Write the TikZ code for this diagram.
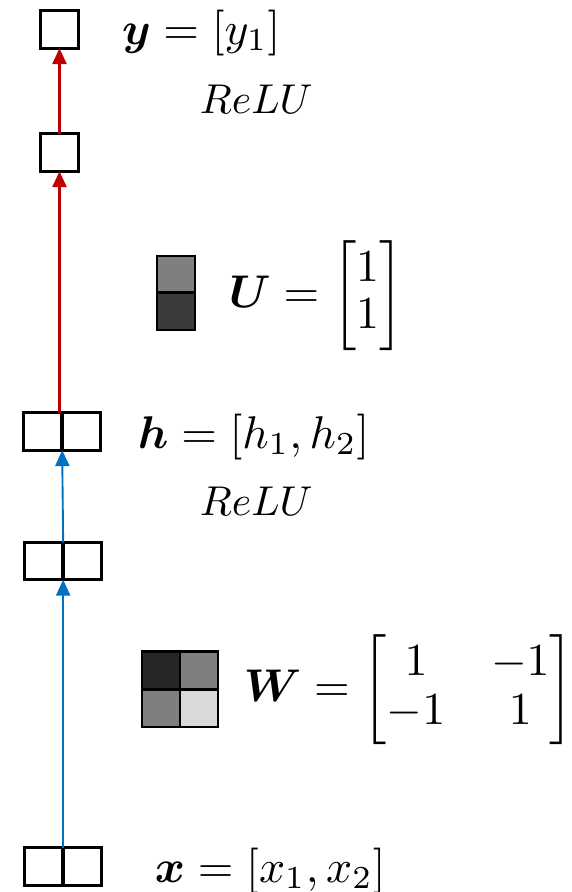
\documentclass[tikz,border=0pt]{standalone}
\usepackage{amsmath,bm}
\usetikzlibrary{arrows.meta}
\definecolor{fwdred}{HTML}{C00000}
\definecolor{fwdblue}{HTML}{0070C0}
\definecolor{wdark}{HTML}{262626}
\definecolor{wmid}{HTML}{7F7F7F}
\definecolor{wlight}{HTML}{D9D9D9}
\definecolor{udark}{HTML}{3A3A3A}

\begin{document}
\begin{tikzpicture}[x=0.24pt,y=-0.24pt,
  unit/.style={draw=black, line width=0.72pt, inner sep=0pt, outer sep=0pt,
    minimum width=9.2pt, minimum height=9pt},
  weight/.style={draw=black, line width=0.5pt, inner sep=0pt, outer sep=0pt,
    minimum width=9.1pt, minimum height=8.9pt},
  lbl/.style={inner sep=0pt, outer sep=0pt},
  eqn/.style={lbl, scale=1.1},
  redlink/.style={draw=fwdred, line width=0.5pt, -{Triangle[length=3.8pt,width=3.4pt]}},
  bluelink/.style={draw=fwdblue, line width=0.45pt, -{Triangle[length=3.8pt,width=3.4pt]}}]

\useasboundingbox (0,0) rectangle (572,892);

% output units
\node[unit] (yout) at (59.5,29.5) {};
\node[unit] (ypre) at (59.5,152.5) {};

% hidden units (after and before ReLU)
\node[unit] (hA) at (43,431.5) {};
\node[unit] (hB) at (81,431.5) {};
\node[unit] (gA) at (44,561) {};
\node[unit] (gB) at (82,561) {};

% input units
\node[unit] (xA) at (44,866.5) {};
\node[unit] (xB) at (82,866.5) {};

% weight matrix U
\node[weight, fill=wmid] (u1) at (176,274.5) {};
\node[weight, fill=udark] (u2) at (176,311) {};

% weight matrix W
\node[weight, fill=wdark] (w11) at (161,670) {};
\node[weight, fill=wmid] (w12) at (199,670) {};
\node[weight, fill=wmid] (w21) at (161,708) {};
\node[weight, fill=wlight] (w22) at (199,708) {};

% connections
\draw[redlink] (ypre.south |- hA.north) -- (ypre.south);
\draw[redlink] (ypre.north) -- (yout.south);
\draw[bluelink] (xA.north east) -- (gA.south east);
\draw[bluelink] (gA.north east) -- (hA.south east);

% labels
\node[eqn, anchor=base west] (ylab) at (122,44) {$\bm{y} = [y_1]$};
\node[lbl, anchor=base west] (relu1) at (200,113) {$ReLU$};
\node[eqn, anchor=west] (ulab) at (229,296)
  {$\bm{U} = {\renewcommand{\arraystretch}{0.85}\begin{bmatrix}1\\1\end{bmatrix}}$};
\node[eqn, anchor=base west] (hlab) at (138,448) {$\bm{h} = [h_1, h_2]$};
\node[lbl, anchor=base west] (relu2) at (200,515) {$ReLU$};
\node[eqn, anchor=west] (wlab) at (244,690)
  {$\bm{W} = {\renewcommand{\arraystretch}{0.9}\begin{bmatrix}1 & -1\\-1 & 1\end{bmatrix}}$};
\node[eqn, anchor=base west] (xlab) at (155,882) {$\bm{x} = [x_1, x_2]$};
\end{tikzpicture}
\end{document}
